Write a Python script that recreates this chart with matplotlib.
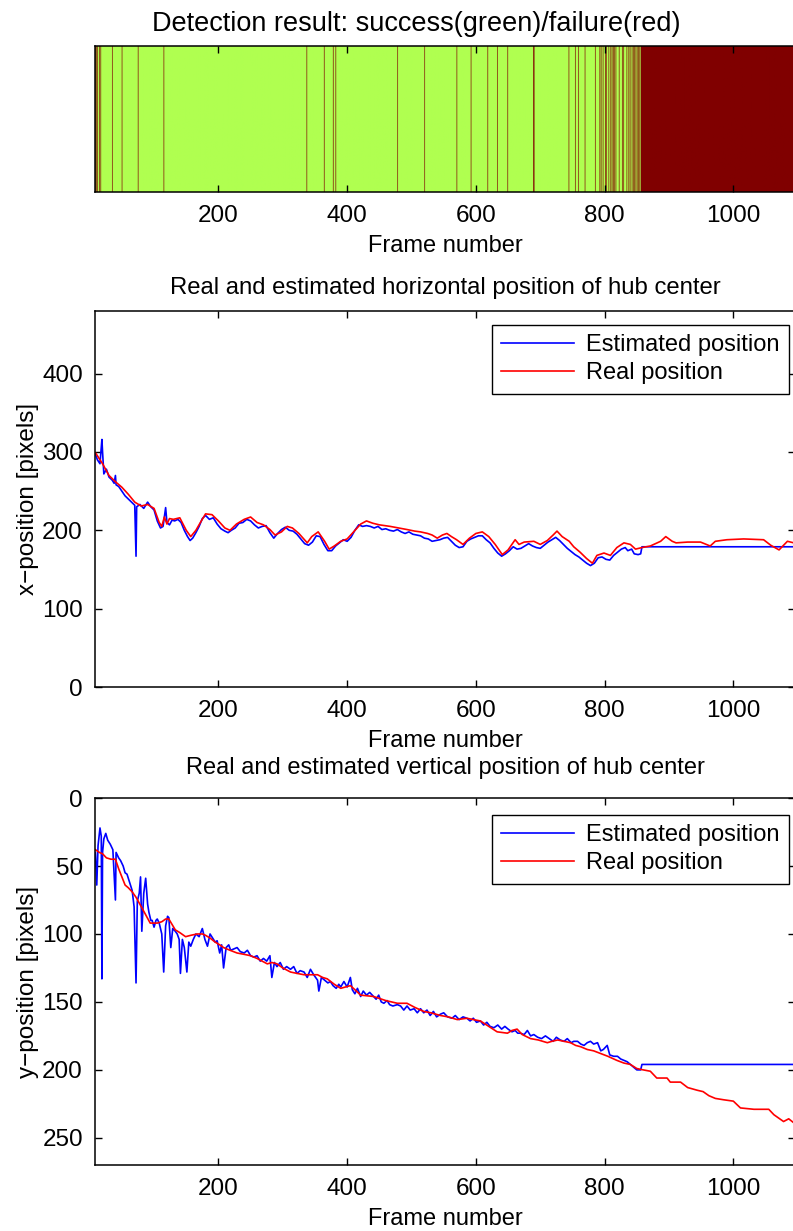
import numpy as np
import matplotlib.pyplot as plt
from matplotlib.colors import ListedColormap

# detection result (frames where detection failed)
first_frame = 9
last_frame = 1094
fail_from = 858
fail_frames = [10, 11, 13, 16, 18, 36, 51, 76, 116, 338, 365, 379, 383, 479, 521,
               571, 593, 619, 634, 650, 690, 691, 745, 755, 760, 770, 786, 793,
               795, 798, 802, 803, 807, 810, 812, 814, 816, 818, 823, 828, 830,
               835, 838, 840, 843, 845, 847, 849, 851, 853, 855, 857]

# horizontal position
x_real_f = [9, 20, 30, 40, 50, 60, 70, 80, 90, 100, 108, 112, 116, 120, 124, 130,
            140, 150, 157, 165, 172, 180, 190, 200, 210, 218, 228, 240, 250, 260,
            270, 280, 288, 298, 307, 315, 325, 338, 345, 355, 365, 372, 380, 390,
            400, 410, 421, 430, 440, 450, 467, 480, 493, 505, 514, 525, 532, 540,
            548, 555, 562, 570, 580, 590, 600, 610, 620, 630, 641, 650, 661, 667,
            675, 690, 700, 711, 720, 726, 734, 745, 752, 762, 772, 781, 788, 799,
            809, 819, 830, 840, 848, 858, 871, 887, 895, 905, 911, 929, 949, 964,
            972, 990, 1016, 1047, 1058, 1071, 1084, 1094]
x_real = [299, 285, 270, 262, 255, 246, 236, 231, 233, 228, 210, 205, 217, 208, 215, 214,
          216, 200, 192, 200, 210, 221, 220, 212, 203, 200, 208, 214, 217, 210,
          207, 201, 194, 198, 205, 203, 196, 184, 192, 198, 186, 176, 180, 186,
          189, 198, 208, 212, 209, 207, 205, 203, 201, 199, 198, 196, 194, 190,
          194, 196, 192, 188, 182, 190, 196, 198, 192, 182, 169, 175, 188, 182,
          185, 186, 182, 187, 194, 199, 192, 186, 179, 172, 164, 158, 168, 171,
          168, 178, 184, 182, 176, 178, 180, 186, 192, 186, 184, 185, 185, 180,
          186, 188, 189, 188, 181, 175, 186, 184]

x_est_f = [9, 12, 16, 19, 20, 22, 26, 30, 35, 38, 40, 41, 45, 50, 55, 60, 65, 70, 72,
           73, 78, 84, 90, 95, 100, 105, 110, 114, 118, 120, 124, 128, 132, 137,
           142, 147, 152, 156, 160, 165, 170, 175, 180, 186, 192, 198, 204, 210,
           215, 220, 226, 232, 238, 244, 250, 256, 262, 268, 274, 280, 286, 292,
           298, 304, 310, 316, 322, 328, 334, 340, 346, 352, 358, 364, 370, 376,
           382, 388, 394, 400, 406, 412, 418, 424, 430, 436, 442, 448, 454, 460,
           466, 472, 478, 484, 490, 496, 502, 508, 514, 520, 526, 532, 538, 544,
           550, 556, 562, 568, 574, 580, 586, 592, 598, 604, 610, 616, 622, 628,
           634, 640, 646, 652, 658, 664, 670, 676, 682, 688, 694, 700, 706, 712,
           718, 724, 730, 736, 742, 748, 754, 760, 766, 772, 778, 784, 790, 796,
           802, 808, 814, 820, 826, 832, 836, 842, 846, 852, 856, 858, 1094]
x_est = [297, 290, 285, 316, 300, 272, 278, 268, 264, 260, 270, 258, 256, 250, 244, 240,
         236, 232, 167, 230, 233, 228, 236, 230, 226, 212, 203, 205, 229, 210, 207,
         213, 212, 214, 210, 200, 192, 187, 190, 197, 205, 215, 219, 214, 216, 208,
         202, 199, 197, 200, 203, 209, 210, 214, 212, 207, 203, 205, 206, 197, 190,
         196, 201, 204, 200, 199, 195, 189, 183, 181, 185, 193, 192, 182, 174, 174,
         180, 184, 188, 186, 191, 200, 207, 205, 206, 205, 203, 205, 201, 202, 200,
         199, 201, 198, 196, 198, 195, 194, 193, 190, 189, 186, 187, 188, 190, 191,
         186, 181, 178, 179, 186, 189, 191, 193, 193, 188, 184, 177, 171, 167, 170,
         174, 179, 176, 177, 180, 183, 180, 178, 177, 181, 185, 188, 191, 187, 182,
         177, 173, 169, 166, 162, 158, 155, 158, 165, 166, 163, 162, 168, 172, 176,
         178, 174, 176, 170, 169, 170, 179, 179]

# vertical position
y_real_f = [9, 15, 20, 26, 33, 40, 45, 50, 55, 60, 66, 72, 79, 86, 94, 100, 105, 112,
            118, 123, 128, 133, 140, 149, 157, 167, 175, 180, 187, 195, 202, 208,
            218, 229, 240, 250, 260, 268, 276, 283, 291, 300, 312, 322, 333, 344,
            354, 362, 369, 380, 390, 405, 412, 421, 441, 460, 478, 493, 505, 519,
            530, 545, 557, 571, 586, 596, 607, 620, 633, 649, 656, 664, 672, 685,
            697, 711, 718, 727, 737, 747, 755, 763, 773, 783, 794, 805, 819, 830,
            840, 850, 860, 871, 881, 897, 902, 918, 929, 944, 953, 962, 972, 985,
            1000, 1011, 1032, 1055, 1063, 1078, 1086, 1094]
y_real = [38, 40, 41, 44, 45, 45, 52, 58, 64, 66, 69, 73, 79, 85, 92, 92, 92, 91,
          89, 89, 93, 97, 99, 102, 101, 100, 100, 101, 103, 106, 108, 110,
          112, 114, 115, 116, 118, 120, 122, 121, 122, 125, 128, 129, 130, 130,
          130, 132, 133, 137, 140, 138, 141, 145, 146, 149, 151, 151, 154, 157,
          158, 160, 161, 163, 162, 163, 164, 168, 172, 173, 171, 170, 174, 177,
          178, 180, 179, 178, 179, 180, 182, 183, 185, 186, 188, 190, 193, 195,
          196, 199, 200, 201, 206, 206, 209, 209, 213, 215, 216, 219, 221, 222,
          223, 228, 229, 229, 233, 238, 236, 239]

y_est_f = [9, 11, 13, 16, 18, 19, 20, 22, 25, 28, 32, 36, 40, 41, 45, 48, 52, 55, 58,
           62, 66, 69, 72, 74, 77, 79, 81, 84, 87, 90, 92, 95, 97, 100, 103, 105,
           108, 112, 115, 118, 121, 123, 126, 129, 133, 136, 139, 141, 144, 147,
           151, 154, 157, 161, 165, 170, 175, 179, 183, 187, 191, 195, 198, 202,
           205, 208, 212, 216, 219, 224, 229, 234, 240, 245, 250, 255, 260, 265,
           270, 275, 280, 283, 287, 291, 296, 301, 306, 312, 317, 322, 327, 333,
           338, 343, 348, 354, 356, 360, 365, 370, 374, 378, 383, 387, 390, 395,
           400, 405, 408, 412, 416, 421, 425, 430, 435, 441, 445, 449, 453, 457,
           462, 466, 471, 478, 483, 488, 493, 498, 504, 509, 514, 519, 524, 529,
           534, 539, 545, 550, 556, 563, 568, 574, 580, 586, 591, 596, 601, 607,
           612, 617, 622, 628, 634, 640, 645, 650, 656, 661, 665, 669, 675, 680,
           685, 690, 696, 702, 708, 714, 720, 725, 731, 737, 742, 748, 752, 758,
           763, 768, 773, 778, 783, 789, 794, 798, 804, 808, 814, 820, 825, 830,
           835, 840, 845, 850, 856, 858, 1094]
y_est = [40, 64, 35, 22, 28, 133, 40, 30, 26, 31, 34, 38, 75, 40, 44, 46, 50, 55, 56,
         62, 68, 80, 136, 76, 70, 58, 98, 70, 59, 78, 84, 90, 90, 95, 90, 89,
         92, 100, 128, 94, 87, 88, 110, 96, 98, 100, 104, 129, 104, 110,
         128, 106, 109, 104, 100, 102, 96, 104, 109, 100, 103, 106, 105, 114,
         108, 125, 110, 108, 112, 111, 110, 113, 114, 112, 116, 117, 116, 120,
         118, 120, 116, 132, 121, 124, 121, 126, 124, 126, 124, 129, 127, 128,
         132, 126, 130, 134, 142, 132, 134, 136, 135, 138, 140, 137, 139, 135,
         139, 132, 141, 144, 140, 146, 142, 145, 143, 146, 148, 145, 150, 151,
         149, 152, 153, 152, 153, 156, 153, 156, 155, 158, 155, 158, 156, 160,
         157, 161, 159, 158, 161, 162, 160, 163, 161, 162, 164, 162, 165, 164,
         167, 165, 168, 169, 167, 170, 168, 170, 172, 171, 173, 173, 174, 171,
         175, 174, 176, 177, 175, 177, 179, 176, 178, 179, 177, 180, 179, 179,
         181, 182, 180, 179, 181, 180, 186, 185, 182, 189, 190, 190, 192, 193,
         194, 196, 198, 200, 200, 196, 196]

frame_ticks = [200, 400, 600, 800, 1000]
green = '#b0ff50'
darkred = '#800000'

plt.rcParams['font.family'] = ['Liberation Sans', 'DejaVu Sans']
plt.rcParams['font.size'] = 17

fig = plt.figure(figsize=(7.93, 12.31), dpi=100)
left, width = 0.1204, 0.8815


def style(ax):
    ax.tick_params(direction='in', top=True, right=True, length=5, width=1,
                   labelsize=17.5, pad=9)
    for s in ax.spines.values():
        s.set_linewidth(1.1)
    ax.set_xlim(first_frame, last_frame + 1)
    ax.set_xticks(frame_ticks)
    ax.set_xlabel('Frame number', fontsize=17, labelpad=6)


def add_legend(ax, ytop):
    leg = ax.legend(loc='upper right', bbox_to_anchor=(0.992, ytop), borderaxespad=0,
                    fancybox=False, edgecolor='k', framealpha=1, fontsize=17,
                    handlelength=3.1, handletextpad=0.5, labelspacing=0.25,
                    borderpad=0.4)
    leg.get_frame().set_linewidth(1.0)


# detection strip
frames = np.arange(first_frame, last_frame + 1)
status = np.isin(frames, fail_frames) | (frames >= fail_from)
ax1 = fig.add_axes([left, 0.844, width, 0.1186])
ax1.imshow(status[np.newaxis, :].astype(float), aspect='auto',
           cmap=ListedColormap([green, darkred]), vmin=0, vmax=1,
           extent=[first_frame - 0.5, last_frame + 0.5, 0, 1])
style(ax1)
ax1.set_ylim(0, 1)
ax1.set_yticks([])
ax1.set_title('Detection result: success(green)/failure(red)', fontsize=19.5,
              pad=11, x=0.4585)

# horizontal
ax2 = fig.add_axes([left, 0.4419, width, 0.3055])
ax2.plot(x_est_f, x_est, color='b', lw=1.2, label='Estimated position')
ax2.plot(x_real_f, x_real, color='r', lw=1.2, label='Real position')
style(ax2)
ax2.set_ylim(0, 480)
ax2.set_yticks([0, 100, 200, 300, 400])
ax2.set_ylabel('x\u2212position [pixels]', fontsize=17.5, labelpad=2)
ax2.set_title('Real and estimated horizontal position of hub center', fontsize=17.2, pad=12)
add_legend(ax2, 0.963)

# vertical
ax3 = fig.add_axes([left, 0.0536, width, 0.2981])
ax3.plot(y_est_f, y_est, color='b', lw=1.2, label='Estimated position')
ax3.plot(y_real_f, y_real, color='r', lw=1.2, label='Real position')
style(ax3)
ax3.set_ylim(270, 0)
ax3.set_yticks([0, 50, 100, 150, 200, 250])
ax3.set_ylabel('y\u2212position [pixels]', fontsize=17.5, labelpad=2)
ax3.set_title('Real and estimated vertical position of hub center', fontsize=17, pad=17)
add_legend(ax3, 0.954)

fig.savefig('out.png', dpi=100)
